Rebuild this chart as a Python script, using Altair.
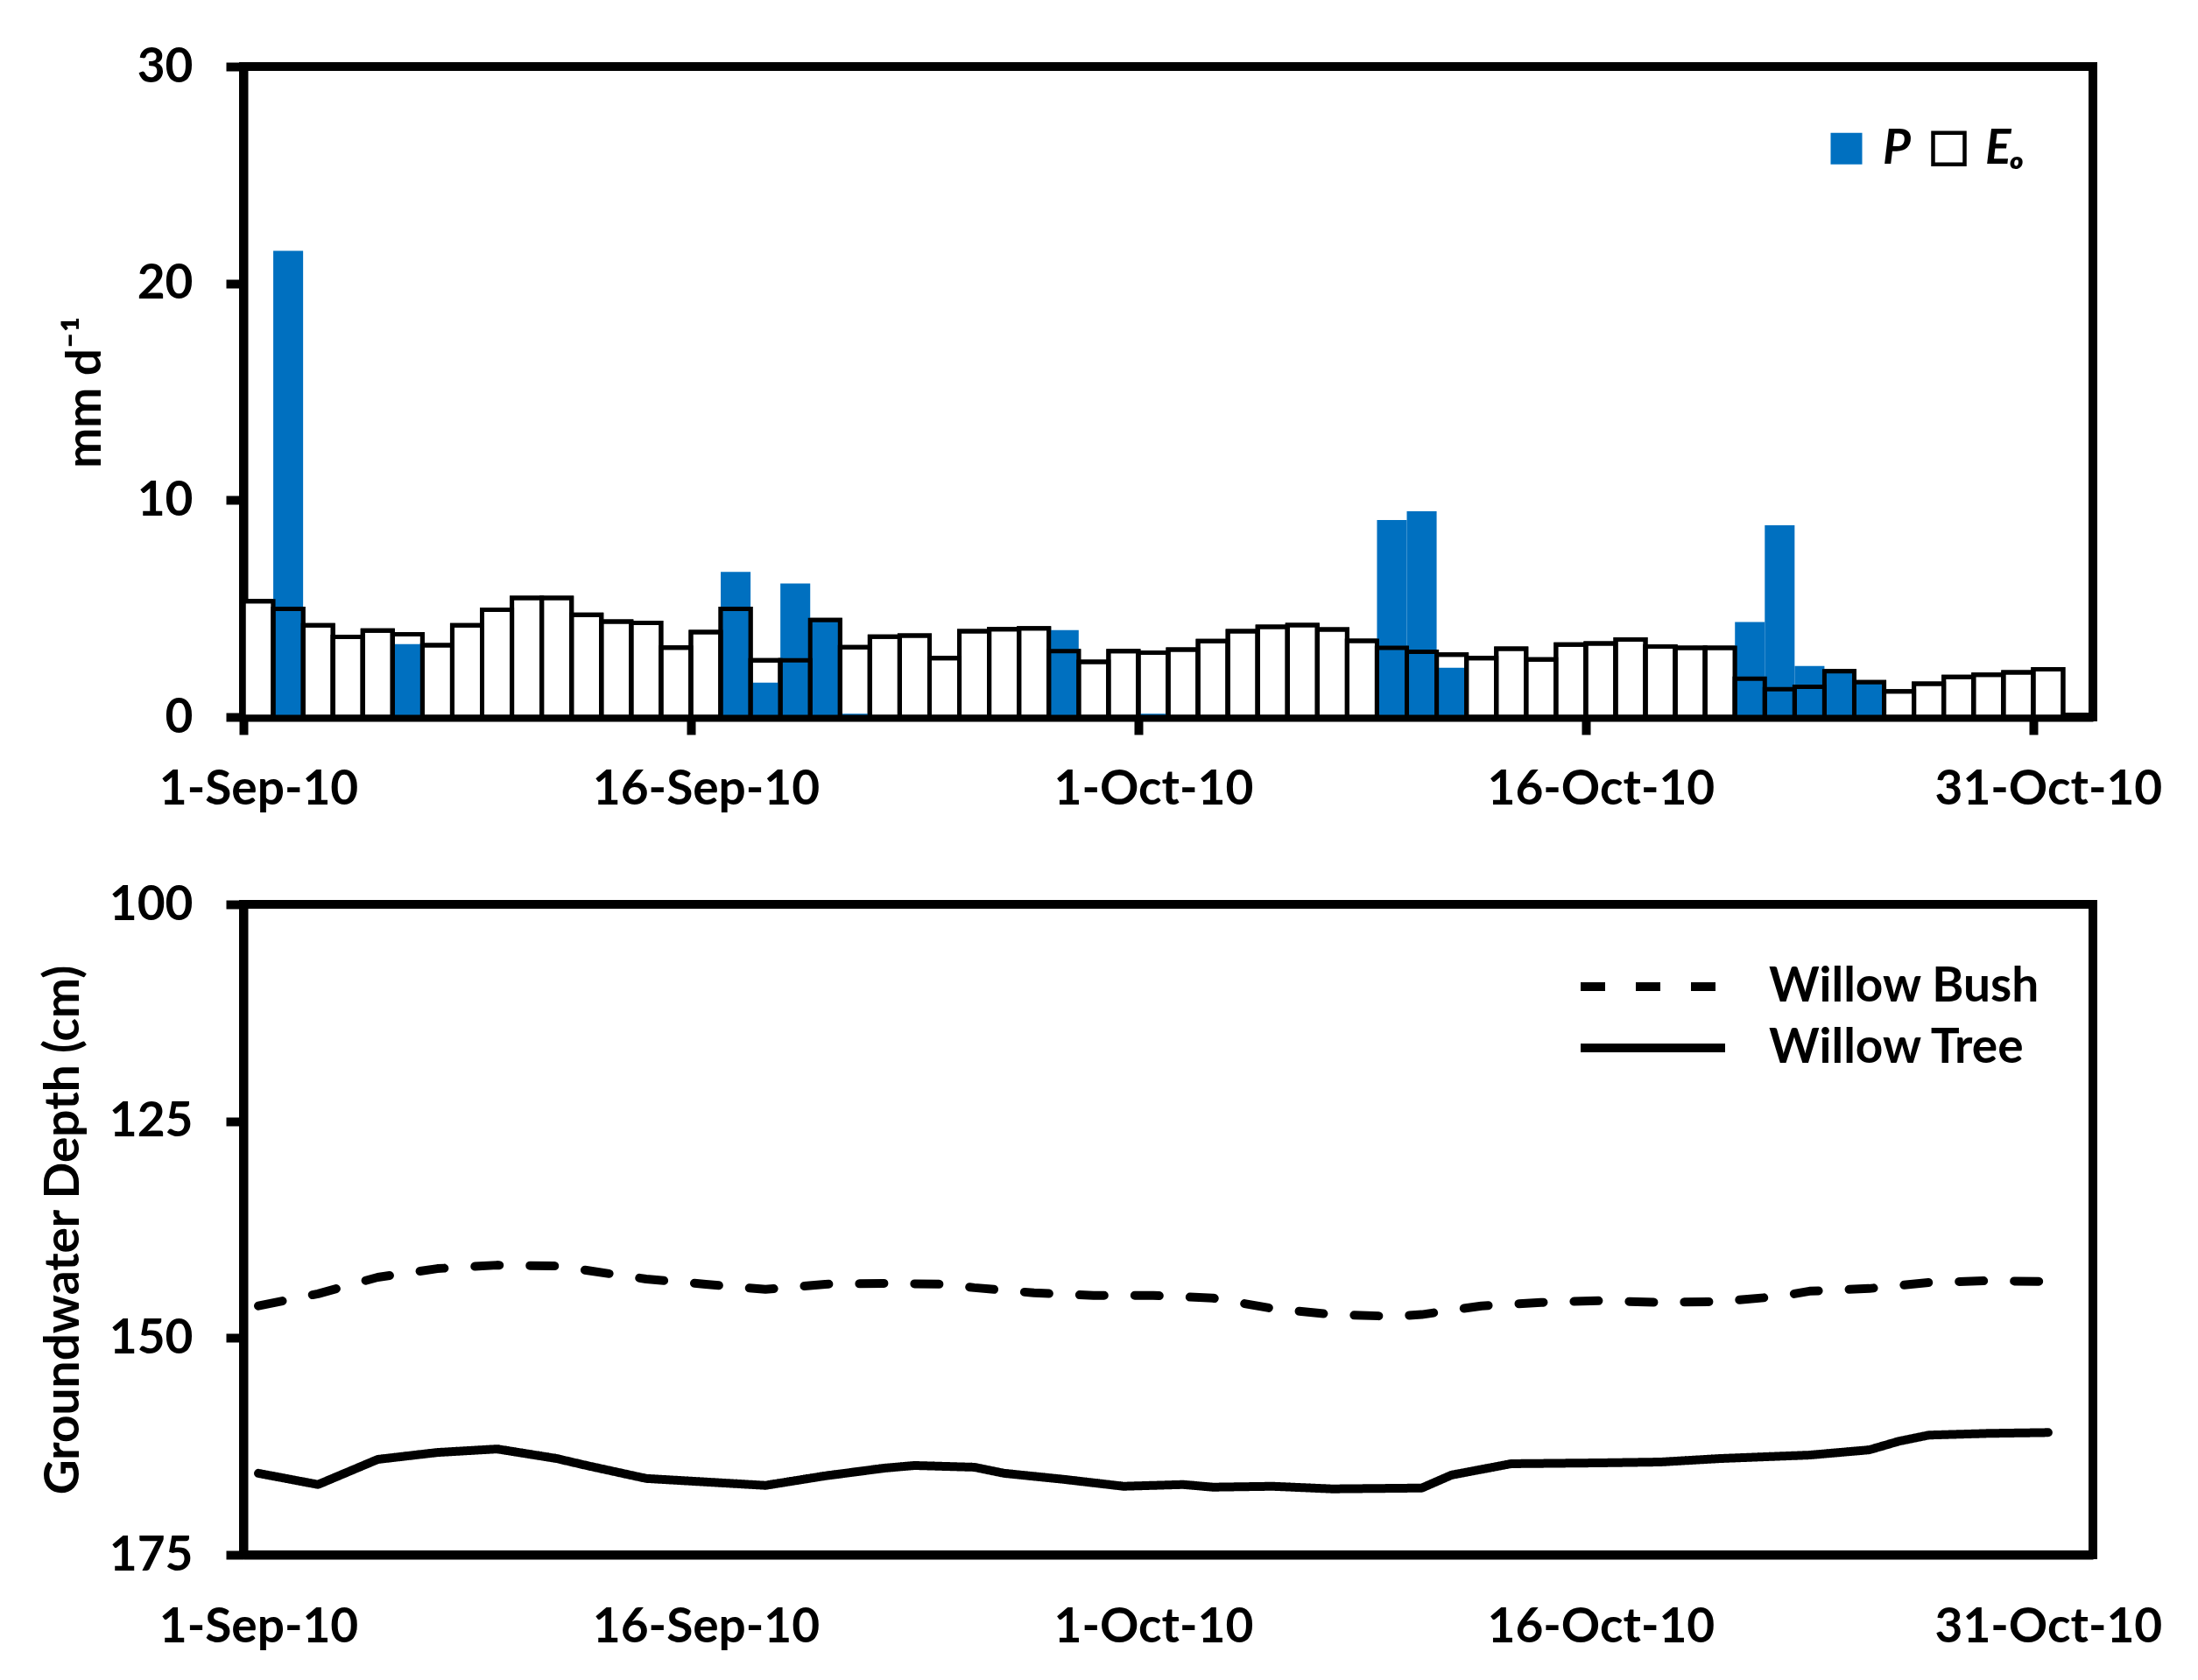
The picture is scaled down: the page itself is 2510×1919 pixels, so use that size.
import altair as alt
import pandas as pd

# ---------------- data ----------------
DAYS = list(range(61))  # 0 = 1 Sep 2010 ... 60 = 31 Oct 2010

P_MM = [0, 21.5, 0, 0, 0, 3.36, 0, 0, 0, 0,
        0, 0, 0, 0, 0, 0, 6.69, 1.58, 6.16, 4.45,
        0.15, 0, 0, 0, 0, 0, 0, 4.01, 0, 0,
        0.15, 0, 0, 0, 0, 0, 0, 0, 9.08, 9.49,
        2.27, 0, 0, 0, 0, 0, 0, 0, 0, 0,
        4.38, 8.84, 2.35, 2.05, 1.55, 0, 0, 0, 0, 0,
        0]

E_MM = [5.34, 4.99, 4.23, 3.69, 3.99, 3.82, 3.31, 4.23, 4.95, 5.49,
        5.49, 4.71, 4.40, 4.34, 3.20, 3.92, 4.99, 2.61, 2.61, 4.47,
        3.22, 3.70, 3.76, 2.72, 3.96, 4.05, 4.09, 3.04, 2.54, 3.04,
        2.97, 3.11, 3.50, 3.96, 4.16, 4.24, 4.04, 3.51, 3.19, 3.01,
        2.88, 2.72, 3.15, 2.65, 3.34, 3.39, 3.57, 3.25, 3.19, 3.19,
        1.77, 1.28, 1.39, 2.11, 1.61, 1.18, 1.53, 1.85, 1.95, 2.06,
        2.20]

BUSH_DAY = [0, 2, 4, 6, 8, 10, 11, 13, 15, 17, 19, 21, 23, 24, 26, 28, 30,
            32, 34, 36, 38, 39, 41, 43, 45, 47, 49, 51, 52, 54, 56, 58, 60]
BUSH_CM = [146.3, 144.9, 143.0, 142.0, 141.6, 141.7, 142.2, 143.2, 143.8, 144.4,
           143.8, 143.7, 143.8, 144.2, 144.8, 145.1, 145.1, 145.4, 146.6, 147.3,
           147.5, 147.3, 146.3, 145.9, 145.7, 145.9, 145.8, 145.2, 144.6, 144.3,
           143.6, 143.4, 143.5]

TREE_DAY = [0, 2, 4, 6, 8, 10, 11, 13, 15, 17, 19, 21, 22, 24, 25, 27, 29,
            31, 32, 34, 36, 39, 40, 42, 45, 47, 49, 52, 54, 55, 56, 58, 60]
TREE_CM = [165.6, 166.9, 164.0, 163.2, 162.8, 163.9, 164.7, 166.2, 166.6, 167.0,
           165.9, 165.0, 164.7, 164.9, 165.6, 166.3, 167.1, 166.9, 167.2, 167.1,
           167.4, 167.3, 165.8, 164.5, 164.4, 164.3, 163.9, 163.5, 162.9, 161.9,
           161.2, 161.0, 160.9]

TICK_DAYS = [0, 15, 30, 45, 60]
TICK_LABELS = ["1-Sep-10", "16-Sep-10", "1-Oct-10", "16-Oct-10", "31-Oct-10"]

SERIES_TOP = ["P", "E\u2092"]
SERIES_BOTTOM = ["Willow Bush", "Willow Tree"]

# ---------------- tables ----------------
bars = pd.concat([
    pd.DataFrame({"day": DAYS, "mm": E_MM, "series": SERIES_TOP[1]}),
    pd.DataFrame({"day": DAYS, "mm": P_MM, "series": SERIES_TOP[0]}),
], ignore_index=True)

gw = pd.concat([
    pd.DataFrame({"day": BUSH_DAY, "cm": BUSH_CM, "series": SERIES_BOTTOM[0]}),
    pd.DataFrame({"day": TREE_DAY, "cm": TREE_CM, "series": SERIES_BOTTOM[1]}),
], ignore_index=True)

label_expr = "".join(
    f"datum.value == {d} ? '{l}' : " for d, l in zip(TICK_DAYS, TICK_LABELS)
) + "''"

FONT = "Lato"
FS = 55
W = 2112
H = 743
x_scale = alt.Scale(domain=[0, 62], nice=False, zero=False)

axis_common = dict(
    labelFont=FONT, labelFontSize=FS, labelFontWeight="bold", labelColor="black",
    titleFont=FONT, titleFontSize=FS, titleFontWeight="bold", titleColor="black",
    domainColor="black", domainWidth=10, tickColor="black", tickWidth=10,
    grid=False, labelLimit=0,
)

# ---------------- top panel ----------------
x_top = alt.X("day:Q", scale=x_scale, axis=alt.Axis(
    values=TICK_DAYS, labelExpr=label_expr, title=None, tickSize=20,
    labelPadding=36, labelOffset=17, labelFlush=False, labelOverlap=False,
    labelAngle=0, **axis_common))
y_top = alt.Y("mm:Q", stack=None, scale=alt.Scale(domain=[0, 30], nice=False),
              axis=alt.Axis(values=[0, 10, 20, 30], title="mm d\u207b\u00b9",
                            tickSize=20, labelPadding=38, titlePadding=30,
                            **axis_common))

top_legend = alt.Legend(
    title=None, orient="none", legendX=1803, legendY=66, direction="horizontal",
    symbolType="square", symbolSize=1296, symbolStrokeWidth=4.5,
    labelFont=FONT, labelFontSize=FS, labelFontWeight="bold",
    labelFontStyle="italic", labelColor="black", labelOffset=14,
    columnPadding=16, padding=0, labelLimit=0)

base_top = alt.Chart(bars).transform_calculate(day2="datum.day + 1")

bars_fill = base_top.mark_bar(strokeWidth=5).encode(
    x=x_top, x2="day2:Q", y=y_top, y2=alt.datum(0),
    fill=alt.Fill("series:N", scale=alt.Scale(domain=SERIES_TOP,
                                               range=["#0070C0", "white"]),
                  legend=top_legend),
    stroke=alt.Stroke("series:N", scale=alt.Scale(domain=SERIES_TOP,
                                                   range=["transparent", "black"]),
                      legend=top_legend),
)

bars_outline = base_top.transform_filter(
    alt.datum.series == SERIES_TOP[1]
).mark_bar(fill=None, fillOpacity=0, stroke="black", strokeWidth=5).encode(
    x=x_top, x2="day2:Q", y=y_top, y2=alt.datum(0),
)

top = alt.layer(bars_fill, bars_outline).properties(width=W, height=H)

# ---------------- bottom panel ----------------
x_bot = alt.X("xc:Q", scale=x_scale, axis=alt.Axis(
    values=TICK_DAYS, labelExpr=label_expr, title=None, ticks=False, tickSize=0,
    labelPadding=56, labelOffset=17, labelFlush=False, labelOverlap=False,
    labelAngle=0, **axis_common))
y_bot = alt.Y("cm:Q", scale=alt.Scale(domain=[100, 175], nice=False, zero=False,
                                      reverse=True),
              axis=alt.Axis(values=[100, 125, 150, 175],
                            title="Groundwater Depth (cm)", tickSize=20,
                            labelPadding=38, titlePadding=23, **axis_common))

bottom_legend = alt.Legend(
    title=None, orient="none", legendX=1522, legendY=1023,
    direction="vertical",
    symbolType="stroke", symbolSize=165 * 165, symbolStrokeWidth=10,
    symbolStrokeColor="black", clipHeight=56, rowPadding=14, labelOffset=45,
    labelFont=FONT, labelFontSize=FS, labelFontWeight="bold",
    labelColor="black", padding=0, labelLimit=0)

bottom = alt.Chart(gw).transform_calculate(xc="datum.day + 0.5").mark_line(
    strokeWidth=10, strokeCap="round", strokeJoin="round", color="black"
).encode(
    x=x_bot, y=y_bot,
    strokeDash=alt.StrokeDash("series:N",
                              scale=alt.Scale(domain=SERIES_BOTTOM,
                                              range=[[28, 35], [1, 0]]),
                              legend=bottom_legend),
    detail="series:N",
    order="day:Q",
).properties(width=W, height=H)

chart = alt.vconcat(top, bottom, spacing=67).properties(
    padding={"left": 32, "top": 36, "right": 20, "bottom": 10}
).configure(background="white").configure_view(stroke="black", strokeWidth=10)

chart.save("out.html", embed_options={"renderer": "svg", "actions": False})
